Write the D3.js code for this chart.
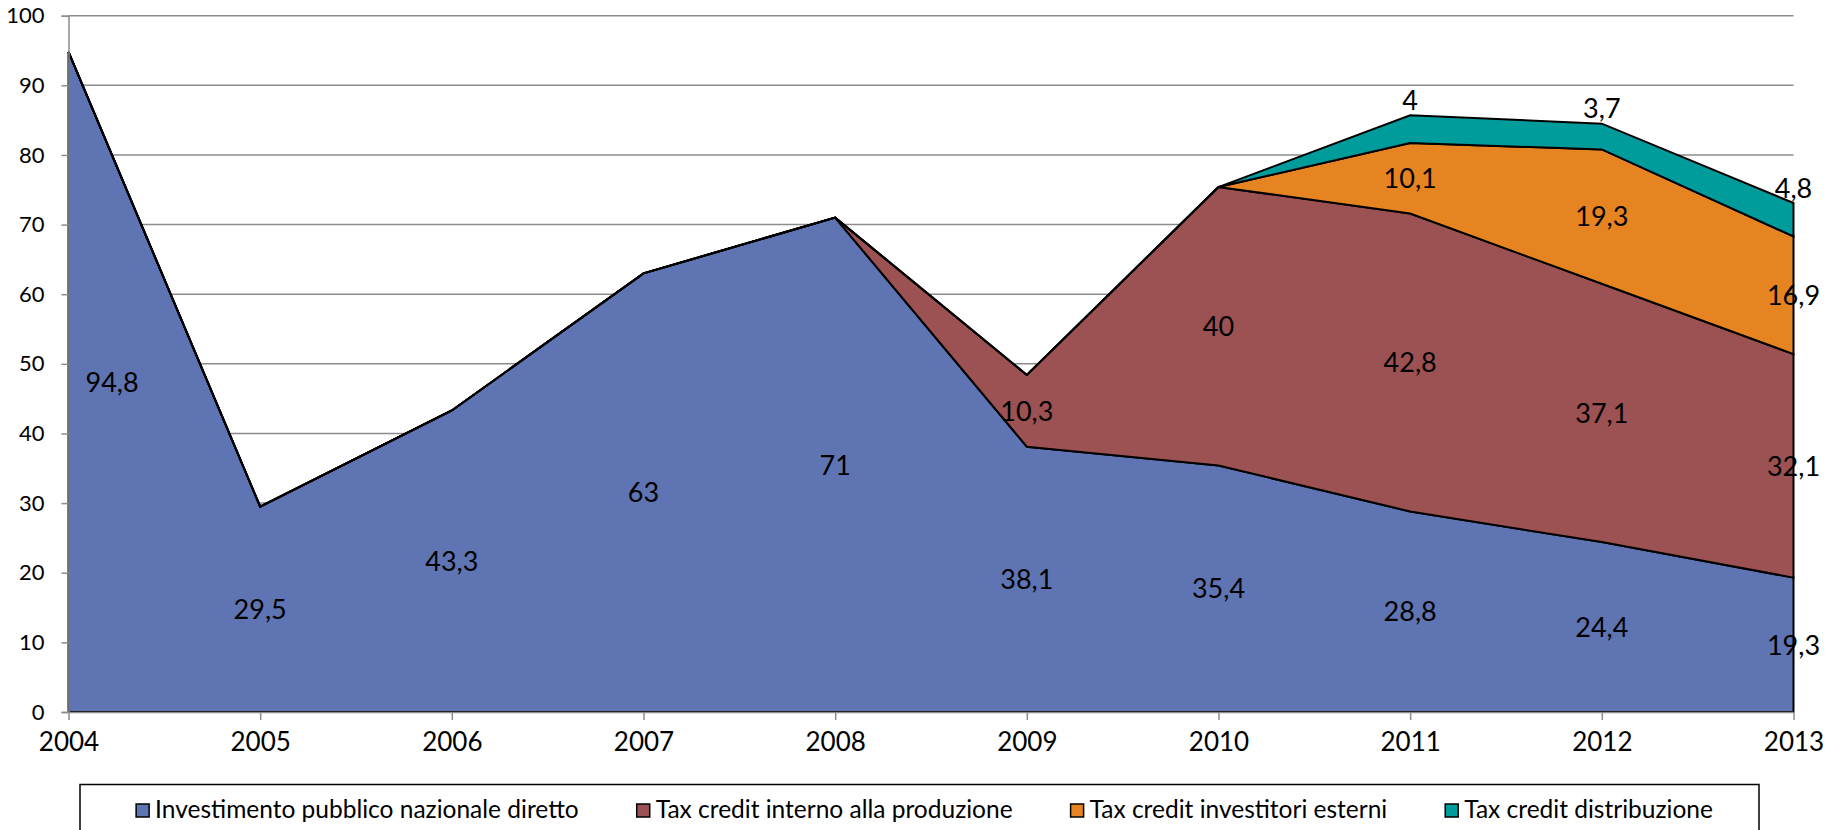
<!DOCTYPE html>
<html>
<head>
<meta charset="utf-8">
<script src="https://cdn.jsdelivr.net/npm/d3@7"></script>
<style>
  html, body { margin: 0; padding: 0; background: #fff; }
  svg { display: block; }
  text { font-family: Lato, "Open Sans", sans-serif; fill: #000; }
</style>
</head>
<body>
<svg id="chart" width="1843" height="830"></svg>
<script>
// ---- data ----
const years = ["2004","2005","2006","2007","2008","2009","2010","2011","2012","2013"];
const seriesNames = [
  "Investimento pubblico nazionale diretto",
  "Tax credit interno alla produzione",
  "Tax credit investitori esterni",
  "Tax credit distribuzione"
];
const investimentoPubblico = [94.8, 29.5, 43.3, 63, 71, 38.1, 35.4, 28.8, 24.4, 19.3];
const taxCreditInterno     = [0, 0, 0, 0, 0, 10.3, 40, 42.8, 37.1, 32.1];
const taxCreditInvestitori = [0, 0, 0, 0, 0, 0, 0, 10.1, 19.3, 16.9];
const taxCreditDistrib     = [0, 0, 0, 0, 0, 0, 0, 4, 3.7, 4.8];
const yTicks = [0, 10, 20, 30, 40, 50, 60, 70, 80, 90, 100];
const colors = ["#5f74b3", "#9c5153", "#e58421", "#009b9b"];

// ---- build table ----
const seriesValues = [investimentoPubblico, taxCreditInterno, taxCreditInvestitori, taxCreditDistrib];
const keys = ["s0","s1","s2","s3"];
const table = years.map((y, i) => {
  const row = { year: y };
  keys.forEach((k, j) => row[k] = seriesValues[j][i]);
  return row;
});
const stacked = d3.stack().keys(keys)(table);

const svg = d3.select("#chart");
const x = d3.scalePoint().domain(years).range([68.5, 1793.5]);
const y = d3.scaleLinear().domain([0, 100]).range([712, 15.7]);

const locale = d3.formatLocale({ decimal: ",", thousands: ".", grouping: [3], currency: ["€", ""] });
const fmt = v => Number.isInteger(v) ? String(v) : locale.format(".1f")(v);

// gridlines
svg.append("g").selectAll("line").data(yTicks.filter(t => t > 0)).join("line")
  .attr("x1", x.range()[0]).attr("x2", x.range()[1])
  .attr("y1", d => y(d)).attr("y2", d => y(d))
  .attr("stroke", "#8c8c8c").attr("stroke-width", 1.5);

// areas
const area = d3.area().x(d => x(d.data.year)).y0(d => y(d[0])).y1(d => y(d[1]));
svg.append("g").selectAll("path").data(stacked).join("path")
  .attr("d", area)
  .attr("fill", (d, i) => colors[i])
  .attr("stroke", "#000").attr("stroke-width", 2).attr("stroke-linejoin", "miter");

// axes
const yAxis = d3.axisLeft(y).tickValues(yTicks).tickSize(7).tickPadding(17).tickFormat(d => d);
const gy = svg.append("g").attr("transform", `translate(${x.range()[0]},0)`).call(yAxis);
gy.select(".domain").attr("stroke", "#8c8c8c").attr("stroke-width", 1.5);
gy.selectAll(".tick line").attr("stroke", "#8c8c8c").attr("stroke-width", 1.5);
gy.selectAll(".tick text").attr("font-family", "Lato").attr("font-size", 22).attr("fill", "#000");

const xAxis = d3.axisBottom(x).tickSize(8).tickPadding(13).tickSizeOuter(0);
const gx = svg.append("g").attr("transform", `translate(0,${y(0)})`).call(xAxis);
gx.select(".domain").attr("stroke", "#8c8c8c").attr("stroke-width", 1.5);
gx.selectAll(".tick line").attr("stroke", "#8c8c8c").attr("stroke-width", 1.5);
gx.selectAll(".tick text").attr("font-family", "Lato").attr("font-size", 26).attr("fill", "#000");

// data labels
const labels = svg.append("g").attr("font-size", 27);
stacked.forEach((layer, si) => {
  layer.forEach((d, i) => {
    const v = seriesValues[si][i];
    if (v === 0) return;
    const px = x(d.data.year);
    let py;
    if (si === 3) py = y(d[1]) - 15;       // thin top band: label above
    else py = y((d[0] + d[1]) / 2);
    const first = i === 0;
    labels.append("text")
      .attr("x", first ? px + 17 : px)
      .attr("y", py)
      .attr("dy", "0.36em")
      .attr("text-anchor", first ? "start" : "middle")
      .text(fmt(v));
  });
});

// legend
const lg = svg.append("g");
lg.append("rect").attr("x", 80).attr("y", 784.5).attr("width", 1679).attr("height", 60)
  .attr("fill", "#fff").attr("stroke", "#000").attr("stroke-width", 1.5);
const items = lg.selectAll("g.item").data(seriesNames).join("g").attr("class", "item");
items.append("rect").attr("width", 13).attr("height", 13).attr("y", 804)
  .attr("fill", (d, i) => colors[i]).attr("stroke", "#000").attr("stroke-width", 1.5);
items.append("text").attr("x", 19).attr("y", 817.5).attr("font-size", 24.5).text(d => d);
let cursor = 0;
const widths = [];
items.each(function () {
  const w = 19 + d3.select(this).select("text").node().getComputedTextLength();
  widths.push(w);
});
const gap = 58;
const total = d3.sum(widths) + gap * (widths.length - 1);
cursor = 924.5 - total / 2;
items.each(function (d, i) {
  d3.select(this).attr("transform", `translate(${cursor},0)`);
  cursor += widths[i] + gap;
});
</script>
</body>
</html>
